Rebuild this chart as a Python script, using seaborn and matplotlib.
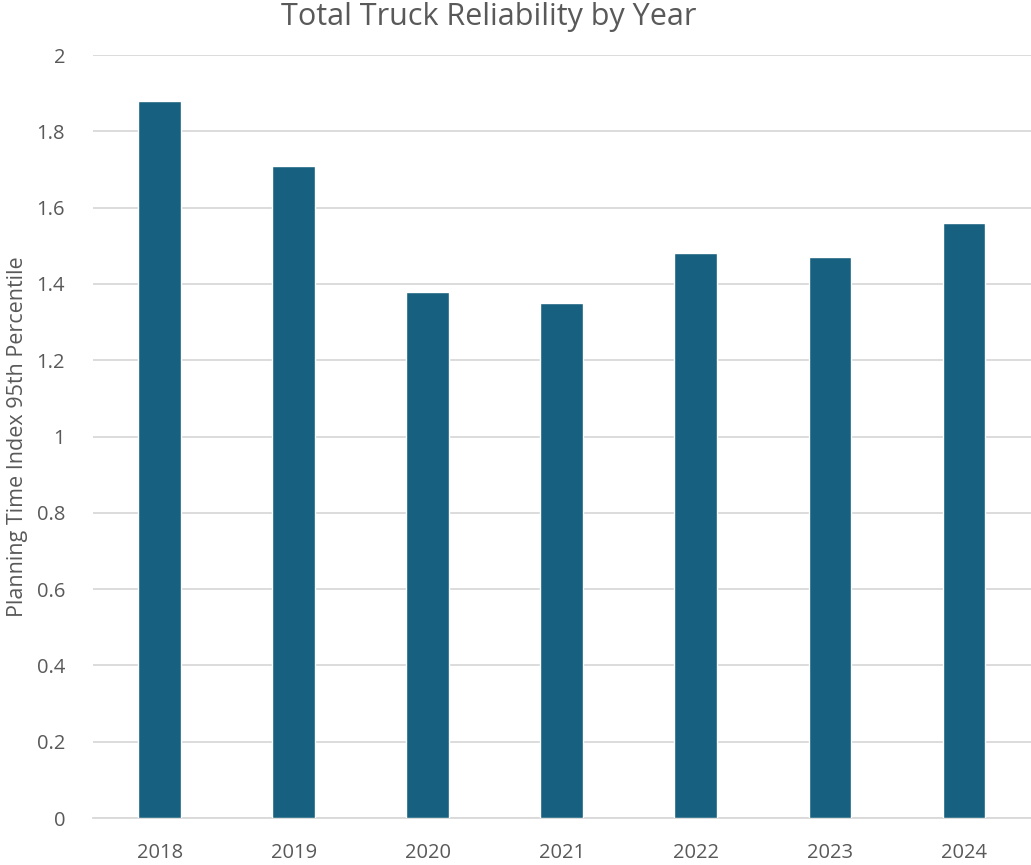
import matplotlib
matplotlib.use("Agg")
import matplotlib.pyplot as plt
import seaborn as sns
import pandas as pd

years = ['2018', '2019', '2020', '2021', '2022', '2023', '2024']
pti95 = [1.88, 1.71, 1.38, 1.35, 1.48, 1.47, 1.56]
yticks = [0, 0.2, 0.4, 0.6, 0.8, 1, 1.2, 1.4, 1.6, 1.8, 2]
ytick_labels = ['0', '0.2', '0.4', '0.6', '0.8', '1', '1.2', '1.4', '1.6', '1.8', '2']

df = pd.DataFrame({'Year': years, 'PTI': pti95})

sns.set_style("white")
plt.rcParams['font.family'] = ['Open Sans', 'DejaVu Sans']
text_col = '#595959'

fig = plt.figure(figsize=(10.31, 8.65), dpi=100)
ax = fig.add_axes([0.090, 0.0543, 0.910, 0.8821])

sns.barplot(data=df, x='Year', y='PTI', color='#17607F', saturation=1,
            width=0.32, ax=ax, zorder=3)

ax.set_ylim(0, 2)
ax.set_yticks(yticks)
ax.set_yticklabels(ytick_labels)
ax.yaxis.grid(True, color='#D9D9D9', linewidth=1.3, zorder=0)
ax.set_axisbelow(True)
for s in ['top', 'right', 'left']:
    ax.spines[s].set_visible(False)
ax.spines['bottom'].set_color('#D9D9D9')
ax.spines['bottom'].set_linewidth(1.3)
ax.tick_params(axis='both', length=0, labelsize=14.5, colors=text_col)
ax.tick_params(axis='x', pad=18)
ax.tick_params(axis='y', pad=20)
ax.set_xlabel('')
ax.set_ylabel('Planning Time Index 95th Percentile', fontsize=15.5, color=text_col, labelpad=6)
fig.text(0.474, 0.980, 'Total Truck Reliability by Year', fontsize=22,
         color=text_col, ha='center', va='center')

fig.savefig('out.png', dpi=100)
